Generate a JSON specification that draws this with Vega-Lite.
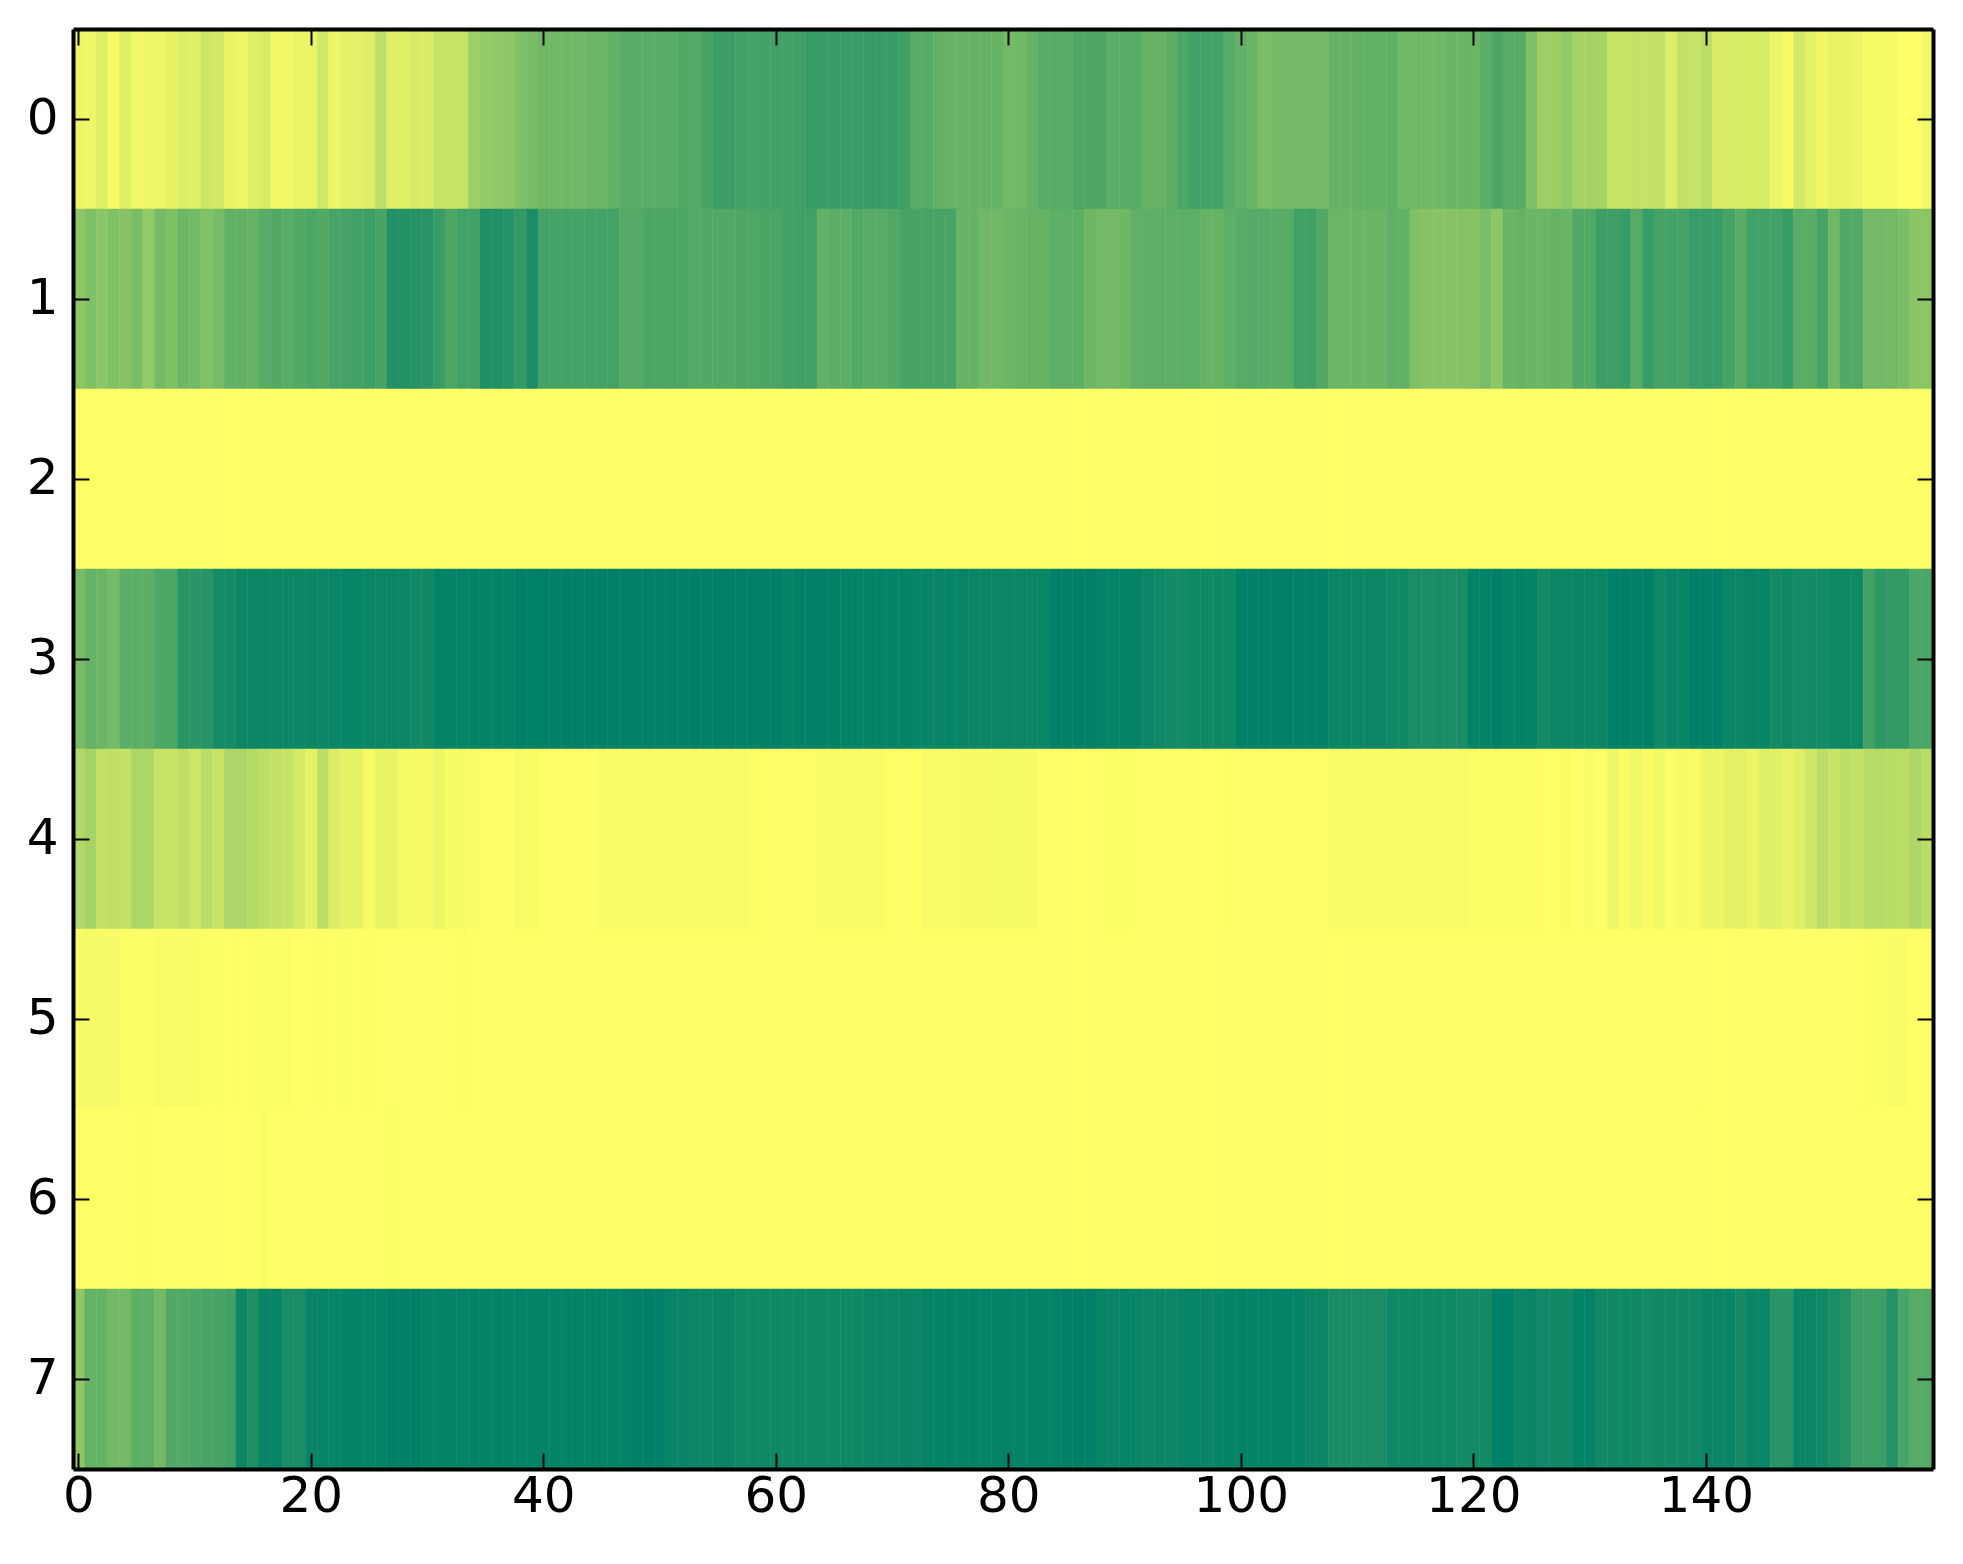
{"$schema":"https://vega.github.io/schema/vega-lite/v6.json","width":1860,"height":1440,"autosize":{"type":"none"},"padding":{"left":73,"top":29,"right":30,"bottom":95},"background":"white","config":{"view":{"stroke":null}},
"data":{"values":[
{"r":0,"c":0,"v":8},{"r":0,"c":1,"v":6},{"r":0,"c":2,"v":13},{"r":0,"c":3,"v":4},{"r":0,"c":4,"v":12},{"r":0,"c":5,"v":5},{"r":0,"c":6,"v":7},{"r":0,"c":7,"v":7},{"r":0,"c":8,"v":10},{"r":0,"c":9,"v":13},{"r":0,"c":10,"v":12},{"r":0,"c":11,"v":20},{"r":0,"c":12,"v":17},{"r":0,"c":13,"v":9},{"r":0,"c":14,"v":7},{"r":0,"c":15,"v":12},{"r":0,"c":16,"v":15},{"r":0,"c":17,"v":5},{"r":0,"c":18,"v":5},{"r":0,"c":19,"v":8},{"r":0,"c":20,"v":8},{"r":0,"c":21,"v":18},{"r":0,"c":22,"v":7},{"r":0,"c":23,"v":11},{"r":0,"c":24,"v":11},{"r":0,"c":25,"v":13},{"r":0,"c":26,"v":25},{"r":0,"c":27,"v":12},{"r":0,"c":28,"v":12},{"r":0,"c":29,"v":16},{"r":0,"c":30,"v":14},{"r":0,"c":31,"v":22},{"r":0,"c":32,"v":22},{"r":0,"c":33,"v":22},{"r":0,"c":34,"v":38},{"r":0,"c":35,"v":42},{"r":0,"c":36,"v":43},{"r":0,"c":37,"v":45},{"r":0,"c":38,"v":50},{"r":0,"c":39,"v":53},
{"r":0,"c":40,"v":56},{"r":0,"c":41,"v":56},{"r":0,"c":42,"v":56},{"r":0,"c":43,"v":56},{"r":0,"c":44,"v":58},{"r":0,"c":45,"v":58},{"r":0,"c":46,"v":62},{"r":0,"c":47,"v":65},{"r":0,"c":48,"v":65},{"r":0,"c":49,"v":65},{"r":0,"c":50,"v":65},{"r":0,"c":51,"v":65},{"r":0,"c":52,"v":68},{"r":0,"c":53,"v":68},{"r":0,"c":54,"v":72},{"r":0,"c":55,"v":76},{"r":0,"c":56,"v":76},{"r":0,"c":57,"v":74},{"r":0,"c":58,"v":72},{"r":0,"c":59,"v":74},{"r":0,"c":60,"v":74},{"r":0,"c":61,"v":74},{"r":0,"c":62,"v":75},{"r":0,"c":63,"v":78},{"r":0,"c":64,"v":78},{"r":0,"c":65,"v":78},{"r":0,"c":66,"v":78},{"r":0,"c":67,"v":78},{"r":0,"c":68,"v":78},{"r":0,"c":69,"v":78},{"r":0,"c":70,"v":78},{"r":0,"c":71,"v":76},{"r":0,"c":72,"v":66},{"r":0,"c":73,"v":66},{"r":0,"c":74,"v":62},{"r":0,"c":75,"v":60},{"r":0,"c":76,"v":60},{"r":0,"c":77,"v":60},{"r":0,"c":78,"v":60},{"r":0,"c":79,"v":60},
{"r":0,"c":80,"v":55},{"r":0,"c":81,"v":56},{"r":0,"c":82,"v":60},{"r":0,"c":83,"v":66},{"r":0,"c":84,"v":66},{"r":0,"c":85,"v":66},{"r":0,"c":86,"v":69},{"r":0,"c":87,"v":69},{"r":0,"c":88,"v":69},{"r":0,"c":89,"v":65},{"r":0,"c":90,"v":65},{"r":0,"c":91,"v":65},{"r":0,"c":92,"v":60},{"r":0,"c":93,"v":60},{"r":0,"c":94,"v":64},{"r":0,"c":95,"v":70},{"r":0,"c":96,"v":74},{"r":0,"c":97,"v":74},{"r":0,"c":98,"v":74},{"r":0,"c":99,"v":66},{"r":0,"c":100,"v":62},{"r":0,"c":101,"v":58},{"r":0,"c":102,"v":52},{"r":0,"c":103,"v":55},{"r":0,"c":104,"v":55},{"r":0,"c":105,"v":55},{"r":0,"c":106,"v":55},{"r":0,"c":107,"v":55},{"r":0,"c":108,"v":60},{"r":0,"c":109,"v":60},{"r":0,"c":110,"v":62},{"r":0,"c":111,"v":62},{"r":0,"c":112,"v":62},{"r":0,"c":113,"v":62},{"r":0,"c":114,"v":56},{"r":0,"c":115,"v":56},{"r":0,"c":116,"v":56},{"r":0,"c":117,"v":56},{"r":0,"c":118,"v":58},{"r":0,"c":119,"v":58},
{"r":0,"c":120,"v":58},{"r":0,"c":121,"v":64},{"r":0,"c":122,"v":70},{"r":0,"c":123,"v":66},{"r":0,"c":124,"v":66},{"r":0,"c":125,"v":50},{"r":0,"c":126,"v":38},{"r":0,"c":127,"v":38},{"r":0,"c":128,"v":42},{"r":0,"c":129,"v":35},{"r":0,"c":130,"v":35},{"r":0,"c":131,"v":35},{"r":0,"c":132,"v":22},{"r":0,"c":133,"v":22},{"r":0,"c":134,"v":23},{"r":0,"c":135,"v":23},{"r":0,"c":136,"v":23},{"r":0,"c":137,"v":14},{"r":0,"c":138,"v":24},{"r":0,"c":139,"v":22},{"r":0,"c":140,"v":26},{"r":0,"c":141,"v":15},{"r":0,"c":142,"v":15},{"r":0,"c":143,"v":15},{"r":0,"c":144,"v":15},{"r":0,"c":145,"v":15},{"r":0,"c":146,"v":8},{"r":0,"c":147,"v":4},{"r":0,"c":148,"v":17},{"r":0,"c":149,"v":11},{"r":0,"c":150,"v":6},{"r":0,"c":151,"v":10},{"r":0,"c":152,"v":9},{"r":0,"c":153,"v":8},{"r":0,"c":154,"v":3},{"r":0,"c":155,"v":3},{"r":0,"c":156,"v":3},{"r":0,"c":157,"v":0},{"r":0,"c":158,"v":0},{"r":0,"c":159,"v":5},
{"r":1,"c":0,"v":45},{"r":1,"c":1,"v":50},{"r":1,"c":2,"v":45},{"r":1,"c":3,"v":50},{"r":1,"c":4,"v":47},{"r":1,"c":5,"v":52},{"r":1,"c":6,"v":42},{"r":1,"c":7,"v":54},{"r":1,"c":8,"v":50},{"r":1,"c":9,"v":57},{"r":1,"c":10,"v":55},{"r":1,"c":11,"v":49},{"r":1,"c":12,"v":53},{"r":1,"c":13,"v":62},{"r":1,"c":14,"v":62},{"r":1,"c":15,"v":60},{"r":1,"c":16,"v":65},{"r":1,"c":17,"v":68},{"r":1,"c":18,"v":65},{"r":1,"c":19,"v":68},{"r":1,"c":20,"v":70},{"r":1,"c":21,"v":68},{"r":1,"c":22,"v":72},{"r":1,"c":23,"v":73},{"r":1,"c":24,"v":74},{"r":1,"c":25,"v":76},{"r":1,"c":26,"v":72},{"r":1,"c":27,"v":87},{"r":1,"c":28,"v":87},{"r":1,"c":29,"v":85},{"r":1,"c":30,"v":84},{"r":1,"c":31,"v":78},{"r":1,"c":32,"v":70},{"r":1,"c":33,"v":74},{"r":1,"c":34,"v":74},{"r":1,"c":35,"v":88},{"r":1,"c":36,"v":88},{"r":1,"c":37,"v":85},{"r":1,"c":38,"v":80},{"r":1,"c":39,"v":90},
{"r":1,"c":40,"v":73},{"r":1,"c":41,"v":73},{"r":1,"c":42,"v":73},{"r":1,"c":43,"v":73},{"r":1,"c":44,"v":73},{"r":1,"c":45,"v":73},{"r":1,"c":46,"v":73},{"r":1,"c":47,"v":67},{"r":1,"c":48,"v":67},{"r":1,"c":49,"v":70},{"r":1,"c":50,"v":70},{"r":1,"c":51,"v":70},{"r":1,"c":52,"v":70},{"r":1,"c":53,"v":68},{"r":1,"c":54,"v":68},{"r":1,"c":55,"v":68},{"r":1,"c":56,"v":68},{"r":1,"c":57,"v":69},{"r":1,"c":58,"v":69},{"r":1,"c":59,"v":71},{"r":1,"c":60,"v":71},{"r":1,"c":61,"v":75},{"r":1,"c":62,"v":75},{"r":1,"c":63,"v":75},{"r":1,"c":64,"v":62},{"r":1,"c":65,"v":64},{"r":1,"c":66,"v":64},{"r":1,"c":67,"v":68},{"r":1,"c":68,"v":66},{"r":1,"c":69,"v":66},{"r":1,"c":70,"v":68},{"r":1,"c":71,"v":72},{"r":1,"c":72,"v":72},{"r":1,"c":73,"v":72},{"r":1,"c":74,"v":72},{"r":1,"c":75,"v":72},{"r":1,"c":76,"v":60},{"r":1,"c":77,"v":60},{"r":1,"c":78,"v":56},{"r":1,"c":79,"v":56},
{"r":1,"c":80,"v":58},{"r":1,"c":81,"v":59},{"r":1,"c":82,"v":60},{"r":1,"c":83,"v":60},{"r":1,"c":84,"v":63},{"r":1,"c":85,"v":63},{"r":1,"c":86,"v":63},{"r":1,"c":87,"v":57},{"r":1,"c":88,"v":55},{"r":1,"c":89,"v":55},{"r":1,"c":90,"v":57},{"r":1,"c":91,"v":62},{"r":1,"c":92,"v":63},{"r":1,"c":93,"v":63},{"r":1,"c":94,"v":63},{"r":1,"c":95,"v":63},{"r":1,"c":96,"v":63},{"r":1,"c":97,"v":60},{"r":1,"c":98,"v":60},{"r":1,"c":99,"v":63},{"r":1,"c":100,"v":67},{"r":1,"c":101,"v":67},{"r":1,"c":102,"v":67},{"r":1,"c":103,"v":65},{"r":1,"c":104,"v":65},{"r":1,"c":105,"v":75},{"r":1,"c":106,"v":75},{"r":1,"c":107,"v":68},{"r":1,"c":108,"v":58},{"r":1,"c":109,"v":58},{"r":1,"c":110,"v":58},{"r":1,"c":111,"v":58},{"r":1,"c":112,"v":58},{"r":1,"c":113,"v":62},{"r":1,"c":114,"v":62},{"r":1,"c":115,"v":50},{"r":1,"c":116,"v":47},{"r":1,"c":117,"v":47},{"r":1,"c":118,"v":47},{"r":1,"c":119,"v":47},
{"r":1,"c":120,"v":48},{"r":1,"c":121,"v":52},{"r":1,"c":122,"v":45},{"r":1,"c":123,"v":58},{"r":1,"c":124,"v":60},{"r":1,"c":125,"v":58},{"r":1,"c":126,"v":58},{"r":1,"c":127,"v":60},{"r":1,"c":128,"v":58},{"r":1,"c":129,"v":68},{"r":1,"c":130,"v":68},{"r":1,"c":131,"v":76},{"r":1,"c":132,"v":76},{"r":1,"c":133,"v":78},{"r":1,"c":134,"v":66},{"r":1,"c":135,"v":78},{"r":1,"c":136,"v":73},{"r":1,"c":137,"v":73},{"r":1,"c":138,"v":73},{"r":1,"c":139,"v":78},{"r":1,"c":140,"v":78},{"r":1,"c":141,"v":78},{"r":1,"c":142,"v":72},{"r":1,"c":143,"v":65},{"r":1,"c":144,"v":74},{"r":1,"c":145,"v":74},{"r":1,"c":146,"v":74},{"r":1,"c":147,"v":78},{"r":1,"c":148,"v":65},{"r":1,"c":149,"v":65},{"r":1,"c":150,"v":72},{"r":1,"c":151,"v":56},{"r":1,"c":152,"v":68},{"r":1,"c":153,"v":68},{"r":1,"c":154,"v":55},{"r":1,"c":155,"v":55},{"r":1,"c":156,"v":55},{"r":1,"c":157,"v":52},{"r":1,"c":158,"v":46},{"r":1,"c":159,"v":46},
{"r":2,"c":0,"v":0},{"r":2,"c":1,"v":0},{"r":2,"c":2,"v":0},{"r":2,"c":3,"v":0},{"r":2,"c":4,"v":0},{"r":2,"c":5,"v":0},{"r":2,"c":6,"v":0},{"r":2,"c":7,"v":0},{"r":2,"c":8,"v":0},{"r":2,"c":9,"v":0},{"r":2,"c":10,"v":0},{"r":2,"c":11,"v":0},{"r":2,"c":12,"v":0},{"r":2,"c":13,"v":0},{"r":2,"c":14,"v":0},{"r":2,"c":15,"v":0},{"r":2,"c":16,"v":0},{"r":2,"c":17,"v":0},{"r":2,"c":18,"v":0},{"r":2,"c":19,"v":0},{"r":2,"c":20,"v":0},{"r":2,"c":21,"v":0},{"r":2,"c":22,"v":0},{"r":2,"c":23,"v":0},{"r":2,"c":24,"v":0},{"r":2,"c":25,"v":0},{"r":2,"c":26,"v":0},{"r":2,"c":27,"v":0},{"r":2,"c":28,"v":0},{"r":2,"c":29,"v":0},{"r":2,"c":30,"v":0},{"r":2,"c":31,"v":0},{"r":2,"c":32,"v":0},{"r":2,"c":33,"v":0},{"r":2,"c":34,"v":0},{"r":2,"c":35,"v":0},{"r":2,"c":36,"v":0},{"r":2,"c":37,"v":0},{"r":2,"c":38,"v":0},{"r":2,"c":39,"v":0},
{"r":2,"c":40,"v":0},{"r":2,"c":41,"v":0},{"r":2,"c":42,"v":0},{"r":2,"c":43,"v":0},{"r":2,"c":44,"v":0},{"r":2,"c":45,"v":0},{"r":2,"c":46,"v":0},{"r":2,"c":47,"v":0},{"r":2,"c":48,"v":0},{"r":2,"c":49,"v":0},{"r":2,"c":50,"v":0},{"r":2,"c":51,"v":0},{"r":2,"c":52,"v":0},{"r":2,"c":53,"v":0},{"r":2,"c":54,"v":0},{"r":2,"c":55,"v":0},{"r":2,"c":56,"v":0},{"r":2,"c":57,"v":0},{"r":2,"c":58,"v":0},{"r":2,"c":59,"v":0},{"r":2,"c":60,"v":0},{"r":2,"c":61,"v":0},{"r":2,"c":62,"v":0},{"r":2,"c":63,"v":0},{"r":2,"c":64,"v":0},{"r":2,"c":65,"v":0},{"r":2,"c":66,"v":0},{"r":2,"c":67,"v":0},{"r":2,"c":68,"v":0},{"r":2,"c":69,"v":0},{"r":2,"c":70,"v":0},{"r":2,"c":71,"v":0},{"r":2,"c":72,"v":0},{"r":2,"c":73,"v":0},{"r":2,"c":74,"v":0},{"r":2,"c":75,"v":0},{"r":2,"c":76,"v":0},{"r":2,"c":77,"v":0},{"r":2,"c":78,"v":0},{"r":2,"c":79,"v":0},
{"r":2,"c":80,"v":0},{"r":2,"c":81,"v":0},{"r":2,"c":82,"v":0},{"r":2,"c":83,"v":0},{"r":2,"c":84,"v":0},{"r":2,"c":85,"v":0},{"r":2,"c":86,"v":0},{"r":2,"c":87,"v":0},{"r":2,"c":88,"v":0},{"r":2,"c":89,"v":0},{"r":2,"c":90,"v":0},{"r":2,"c":91,"v":0},{"r":2,"c":92,"v":0},{"r":2,"c":93,"v":0},{"r":2,"c":94,"v":0},{"r":2,"c":95,"v":0},{"r":2,"c":96,"v":0},{"r":2,"c":97,"v":0},{"r":2,"c":98,"v":0},{"r":2,"c":99,"v":0},{"r":2,"c":100,"v":0},{"r":2,"c":101,"v":0},{"r":2,"c":102,"v":0},{"r":2,"c":103,"v":0},{"r":2,"c":104,"v":0},{"r":2,"c":105,"v":0},{"r":2,"c":106,"v":0},{"r":2,"c":107,"v":0},{"r":2,"c":108,"v":0},{"r":2,"c":109,"v":0},{"r":2,"c":110,"v":0},{"r":2,"c":111,"v":0},{"r":2,"c":112,"v":0},{"r":2,"c":113,"v":0},{"r":2,"c":114,"v":0},{"r":2,"c":115,"v":0},{"r":2,"c":116,"v":0},{"r":2,"c":117,"v":0},{"r":2,"c":118,"v":0},{"r":2,"c":119,"v":0},
{"r":2,"c":120,"v":0},{"r":2,"c":121,"v":0},{"r":2,"c":122,"v":0},{"r":2,"c":123,"v":0},{"r":2,"c":124,"v":0},{"r":2,"c":125,"v":0},{"r":2,"c":126,"v":0},{"r":2,"c":127,"v":0},{"r":2,"c":128,"v":0},{"r":2,"c":129,"v":0},{"r":2,"c":130,"v":0},{"r":2,"c":131,"v":0},{"r":2,"c":132,"v":0},{"r":2,"c":133,"v":0},{"r":2,"c":134,"v":0},{"r":2,"c":135,"v":0},{"r":2,"c":136,"v":0},{"r":2,"c":137,"v":0},{"r":2,"c":138,"v":0},{"r":2,"c":139,"v":0},{"r":2,"c":140,"v":0},{"r":2,"c":141,"v":0},{"r":2,"c":142,"v":0},{"r":2,"c":143,"v":0},{"r":2,"c":144,"v":0},{"r":2,"c":145,"v":0},{"r":2,"c":146,"v":0},{"r":2,"c":147,"v":0},{"r":2,"c":148,"v":0},{"r":2,"c":149,"v":0},{"r":2,"c":150,"v":0},{"r":2,"c":151,"v":0},{"r":2,"c":152,"v":0},{"r":2,"c":153,"v":0},{"r":2,"c":154,"v":0},{"r":2,"c":155,"v":0},{"r":2,"c":156,"v":0},{"r":2,"c":157,"v":0},{"r":2,"c":158,"v":0},{"r":2,"c":159,"v":0},
{"r":3,"c":0,"v":53},{"r":3,"c":1,"v":60},{"r":3,"c":2,"v":58},{"r":3,"c":3,"v":54},{"r":3,"c":4,"v":64},{"r":3,"c":5,"v":64},{"r":3,"c":6,"v":64},{"r":3,"c":7,"v":70},{"r":3,"c":8,"v":70},{"r":3,"c":9,"v":84},{"r":3,"c":10,"v":84},{"r":3,"c":11,"v":84},{"r":3,"c":12,"v":91},{"r":3,"c":13,"v":91},{"r":3,"c":14,"v":95},{"r":3,"c":15,"v":95},{"r":3,"c":16,"v":95},{"r":3,"c":17,"v":95},{"r":3,"c":18,"v":95},{"r":3,"c":19,"v":95},{"r":3,"c":20,"v":95},{"r":3,"c":21,"v":95},{"r":3,"c":22,"v":97},{"r":3,"c":23,"v":97},{"r":3,"c":24,"v":97},{"r":3,"c":25,"v":96},{"r":3,"c":26,"v":96},{"r":3,"c":27,"v":96},{"r":3,"c":28,"v":96},{"r":3,"c":29,"v":93},{"r":3,"c":30,"v":93},{"r":3,"c":31,"v":98},{"r":3,"c":32,"v":98},{"r":3,"c":33,"v":98},{"r":3,"c":34,"v":98},{"r":3,"c":35,"v":98},{"r":3,"c":36,"v":98},{"r":3,"c":37,"v":98},{"r":3,"c":38,"v":100},{"r":3,"c":39,"v":100},
{"r":3,"c":40,"v":100},{"r":3,"c":41,"v":100},{"r":3,"c":42,"v":100},{"r":3,"c":43,"v":100},{"r":3,"c":44,"v":100},{"r":3,"c":45,"v":100},{"r":3,"c":46,"v":100},{"r":3,"c":47,"v":99},{"r":3,"c":48,"v":99},{"r":3,"c":49,"v":99},{"r":3,"c":50,"v":99},{"r":3,"c":51,"v":99},{"r":3,"c":52,"v":99},{"r":3,"c":53,"v":100},{"r":3,"c":54,"v":100},{"r":3,"c":55,"v":100},{"r":3,"c":56,"v":100},{"r":3,"c":57,"v":100},{"r":3,"c":58,"v":100},{"r":3,"c":59,"v":100},{"r":3,"c":60,"v":100},{"r":3,"c":61,"v":98},{"r":3,"c":62,"v":99},{"r":3,"c":63,"v":99},{"r":3,"c":64,"v":99},{"r":3,"c":65,"v":99},{"r":3,"c":66,"v":98},{"r":3,"c":67,"v":98},{"r":3,"c":68,"v":98},{"r":3,"c":69,"v":98},{"r":3,"c":70,"v":98},{"r":3,"c":71,"v":98},{"r":3,"c":72,"v":97},{"r":3,"c":73,"v":97},{"r":3,"c":74,"v":97},{"r":3,"c":75,"v":97},{"r":3,"c":76,"v":97},{"r":3,"c":77,"v":96},{"r":3,"c":78,"v":96},{"r":3,"c":79,"v":96},
{"r":3,"c":80,"v":96},{"r":3,"c":81,"v":96},{"r":3,"c":82,"v":96},{"r":3,"c":83,"v":96},{"r":3,"c":84,"v":100},{"r":3,"c":85,"v":100},{"r":3,"c":86,"v":100},{"r":3,"c":87,"v":100},{"r":3,"c":88,"v":98},{"r":3,"c":89,"v":98},{"r":3,"c":90,"v":98},{"r":3,"c":91,"v":98},{"r":3,"c":92,"v":96},{"r":3,"c":93,"v":94},{"r":3,"c":94,"v":92},{"r":3,"c":95,"v":92},{"r":3,"c":96,"v":94},{"r":3,"c":97,"v":94},{"r":3,"c":98,"v":94},{"r":3,"c":99,"v":94},{"r":3,"c":100,"v":99},{"r":3,"c":101,"v":99},{"r":3,"c":102,"v":99},{"r":3,"c":103,"v":99},{"r":3,"c":104,"v":99},{"r":3,"c":105,"v":99},{"r":3,"c":106,"v":99},{"r":3,"c":107,"v":99},{"r":3,"c":108,"v":96},{"r":3,"c":109,"v":96},{"r":3,"c":110,"v":95},{"r":3,"c":111,"v":95},{"r":3,"c":112,"v":95},{"r":3,"c":113,"v":94},{"r":3,"c":114,"v":94},{"r":3,"c":115,"v":90},{"r":3,"c":116,"v":90},{"r":3,"c":117,"v":90},{"r":3,"c":118,"v":90},{"r":3,"c":119,"v":90},
{"r":3,"c":120,"v":98},{"r":3,"c":121,"v":98},{"r":3,"c":122,"v":100},{"r":3,"c":123,"v":98},{"r":3,"c":124,"v":98},{"r":3,"c":125,"v":98},{"r":3,"c":126,"v":92},{"r":3,"c":127,"v":95},{"r":3,"c":128,"v":95},{"r":3,"c":129,"v":96},{"r":3,"c":130,"v":96},{"r":3,"c":131,"v":96},{"r":3,"c":132,"v":100},{"r":3,"c":133,"v":100},{"r":3,"c":134,"v":100},{"r":3,"c":135,"v":100},{"r":3,"c":136,"v":94},{"r":3,"c":137,"v":97},{"r":3,"c":138,"v":97},{"r":3,"c":139,"v":100},{"r":3,"c":140,"v":100},{"r":3,"c":141,"v":100},{"r":3,"c":142,"v":96},{"r":3,"c":143,"v":96},{"r":3,"c":144,"v":97},{"r":3,"c":145,"v":97},{"r":3,"c":146,"v":92},{"r":3,"c":147,"v":94},{"r":3,"c":148,"v":92},{"r":3,"c":149,"v":92},{"r":3,"c":150,"v":92},{"r":3,"c":151,"v":94},{"r":3,"c":152,"v":94},{"r":3,"c":153,"v":94},{"r":3,"c":154,"v":75},{"r":3,"c":155,"v":82},{"r":3,"c":156,"v":80},{"r":3,"c":157,"v":80},{"r":3,"c":158,"v":70},{"r":3,"c":159,"v":70},
{"r":4,"c":0,"v":30},{"r":4,"c":1,"v":35},{"r":4,"c":2,"v":24},{"r":4,"c":3,"v":25},{"r":4,"c":4,"v":24},{"r":4,"c":5,"v":32},{"r":4,"c":6,"v":32},{"r":4,"c":7,"v":22},{"r":4,"c":8,"v":22},{"r":4,"c":9,"v":25},{"r":4,"c":10,"v":20},{"r":4,"c":11,"v":27},{"r":4,"c":12,"v":22},{"r":4,"c":13,"v":33},{"r":4,"c":14,"v":33},{"r":4,"c":15,"v":30},{"r":4,"c":16,"v":26},{"r":4,"c":17,"v":24},{"r":4,"c":18,"v":22},{"r":4,"c":19,"v":17},{"r":4,"c":20,"v":10},{"r":4,"c":21,"v":26},{"r":4,"c":22,"v":14},{"r":4,"c":23,"v":10},{"r":4,"c":24,"v":10},{"r":4,"c":25,"v":3},{"r":4,"c":26,"v":9},{"r":4,"c":27,"v":9},{"r":4,"c":28,"v":4},{"r":4,"c":29,"v":3},{"r":4,"c":30,"v":3},{"r":4,"c":31,"v":7},{"r":4,"c":32,"v":3},{"r":4,"c":33,"v":3},{"r":4,"c":34,"v":2},{"r":4,"c":35,"v":0},{"r":4,"c":36,"v":0},{"r":4,"c":37,"v":0},{"r":4,"c":38,"v":3},{"r":4,"c":39,"v":2},
{"r":4,"c":40,"v":0},{"r":4,"c":41,"v":0},{"r":4,"c":42,"v":0},{"r":4,"c":43,"v":0},{"r":4,"c":44,"v":0},{"r":4,"c":45,"v":2},{"r":4,"c":46,"v":2},{"r":4,"c":47,"v":2},{"r":4,"c":48,"v":2},{"r":4,"c":49,"v":2},{"r":4,"c":50,"v":2},{"r":4,"c":51,"v":2},{"r":4,"c":52,"v":2},{"r":4,"c":53,"v":2},{"r":4,"c":54,"v":2},{"r":4,"c":55,"v":2},{"r":4,"c":56,"v":2},{"r":4,"c":57,"v":2},{"r":4,"c":58,"v":1},{"r":4,"c":59,"v":0},{"r":4,"c":60,"v":0},{"r":4,"c":61,"v":0},{"r":4,"c":62,"v":0},{"r":4,"c":63,"v":0},{"r":4,"c":64,"v":2},{"r":4,"c":65,"v":2},{"r":4,"c":66,"v":2},{"r":4,"c":67,"v":2},{"r":4,"c":68,"v":2},{"r":4,"c":69,"v":2},{"r":4,"c":70,"v":0},{"r":4,"c":71,"v":0},{"r":4,"c":72,"v":0},{"r":4,"c":73,"v":2.5},{"r":4,"c":74,"v":2.5},{"r":4,"c":75,"v":2.5},{"r":4,"c":76,"v":3},{"r":4,"c":77,"v":3},{"r":4,"c":78,"v":3},{"r":4,"c":79,"v":3},
{"r":4,"c":80,"v":3},{"r":4,"c":81,"v":3},{"r":4,"c":82,"v":3},{"r":4,"c":83,"v":0},{"r":4,"c":84,"v":0},{"r":4,"c":85,"v":0},{"r":4,"c":86,"v":0},{"r":4,"c":87,"v":0},{"r":4,"c":88,"v":0},{"r":4,"c":89,"v":1},{"r":4,"c":90,"v":1},{"r":4,"c":91,"v":0},{"r":4,"c":92,"v":0},{"r":4,"c":93,"v":0},{"r":4,"c":94,"v":0},{"r":4,"c":95,"v":0},{"r":4,"c":96,"v":0},{"r":4,"c":97,"v":0},{"r":4,"c":98,"v":0},{"r":4,"c":99,"v":0.5},{"r":4,"c":100,"v":0.5},{"r":4,"c":101,"v":0},{"r":4,"c":102,"v":0},{"r":4,"c":103,"v":0},{"r":4,"c":104,"v":0},{"r":4,"c":105,"v":0},{"r":4,"c":106,"v":0},{"r":4,"c":107,"v":0},{"r":4,"c":108,"v":2.5},{"r":4,"c":109,"v":2.5},{"r":4,"c":110,"v":2.5},{"r":4,"c":111,"v":2.5},{"r":4,"c":112,"v":2.5},{"r":4,"c":113,"v":2.5},{"r":4,"c":114,"v":2.5},{"r":4,"c":115,"v":2.5},{"r":4,"c":116,"v":2.5},{"r":4,"c":117,"v":2.5},{"r":4,"c":118,"v":2.5},{"r":4,"c":119,"v":2.5},
{"r":4,"c":120,"v":1},{"r":4,"c":121,"v":1},{"r":4,"c":122,"v":1},{"r":4,"c":123,"v":1},{"r":4,"c":124,"v":1},{"r":4,"c":125,"v":1},{"r":4,"c":126,"v":0},{"r":4,"c":127,"v":0},{"r":4,"c":128,"v":2},{"r":4,"c":129,"v":0},{"r":4,"c":130,"v":2},{"r":4,"c":131,"v":0},{"r":4,"c":132,"v":7},{"r":4,"c":133,"v":2},{"r":4,"c":134,"v":5},{"r":4,"c":135,"v":2},{"r":4,"c":136,"v":5},{"r":4,"c":137,"v":1},{"r":4,"c":138,"v":3},{"r":4,"c":139,"v":2},{"r":4,"c":140,"v":8},{"r":4,"c":141,"v":8},{"r":4,"c":142,"v":11},{"r":4,"c":143,"v":11},{"r":4,"c":144,"v":8},{"r":4,"c":145,"v":12},{"r":4,"c":146,"v":12},{"r":4,"c":147,"v":9},{"r":4,"c":148,"v":13},{"r":4,"c":149,"v":20},{"r":4,"c":150,"v":26},{"r":4,"c":151,"v":22},{"r":4,"c":152,"v":26},{"r":4,"c":153,"v":24},{"r":4,"c":154,"v":28},{"r":4,"c":155,"v":28},{"r":4,"c":156,"v":27},{"r":4,"c":157,"v":27},{"r":4,"c":158,"v":32},{"r":4,"c":159,"v":27},
{"r":5,"c":0,"v":3},{"r":5,"c":1,"v":4},{"r":5,"c":2,"v":4},{"r":5,"c":3,"v":4},{"r":5,"c":4,"v":1},{"r":5,"c":5,"v":1},{"r":5,"c":6,"v":1},{"r":5,"c":7,"v":2},{"r":5,"c":8,"v":1.5},{"r":5,"c":9,"v":1.5},{"r":5,"c":10,"v":1.5},{"r":5,"c":11,"v":0},{"r":5,"c":12,"v":0.5},{"r":5,"c":13,"v":0.5},{"r":5,"c":14,"v":0},{"r":5,"c":15,"v":1},{"r":5,"c":16,"v":0.5},{"r":5,"c":17,"v":1},{"r":5,"c":18,"v":1},{"r":5,"c":19,"v":0},{"r":5,"c":20,"v":0},{"r":5,"c":21,"v":0.5},{"r":5,"c":22,"v":0},{"r":5,"c":23,"v":1},{"r":5,"c":24,"v":0},{"r":5,"c":25,"v":1},{"r":5,"c":26,"v":0},{"r":5,"c":27,"v":0},{"r":5,"c":28,"v":0},{"r":5,"c":29,"v":0},{"r":5,"c":30,"v":0},{"r":5,"c":31,"v":0},{"r":5,"c":32,"v":0},{"r":5,"c":33,"v":1},{"r":5,"c":34,"v":0},{"r":5,"c":35,"v":0},{"r":5,"c":36,"v":0},{"r":5,"c":37,"v":0},{"r":5,"c":38,"v":0},{"r":5,"c":39,"v":0},
{"r":5,"c":40,"v":0},{"r":5,"c":41,"v":0},{"r":5,"c":42,"v":0},{"r":5,"c":43,"v":0},{"r":5,"c":44,"v":0},{"r":5,"c":45,"v":0},{"r":5,"c":46,"v":0},{"r":5,"c":47,"v":0},{"r":5,"c":48,"v":0},{"r":5,"c":49,"v":0},{"r":5,"c":50,"v":0},{"r":5,"c":51,"v":0},{"r":5,"c":52,"v":0},{"r":5,"c":53,"v":0},{"r":5,"c":54,"v":0},{"r":5,"c":55,"v":0},{"r":5,"c":56,"v":0},{"r":5,"c":57,"v":0},{"r":5,"c":58,"v":0},{"r":5,"c":59,"v":0},{"r":5,"c":60,"v":0},{"r":5,"c":61,"v":0},{"r":5,"c":62,"v":0},{"r":5,"c":63,"v":0},{"r":5,"c":64,"v":0},{"r":5,"c":65,"v":0},{"r":5,"c":66,"v":0},{"r":5,"c":67,"v":0},{"r":5,"c":68,"v":0},{"r":5,"c":69,"v":0},{"r":5,"c":70,"v":0},{"r":5,"c":71,"v":0},{"r":5,"c":72,"v":0},{"r":5,"c":73,"v":0},{"r":5,"c":74,"v":0},{"r":5,"c":75,"v":0},{"r":5,"c":76,"v":0},{"r":5,"c":77,"v":0},{"r":5,"c":78,"v":0},{"r":5,"c":79,"v":0},
{"r":5,"c":80,"v":0},{"r":5,"c":81,"v":0},{"r":5,"c":82,"v":0},{"r":5,"c":83,"v":0},{"r":5,"c":84,"v":0},{"r":5,"c":85,"v":0},{"r":5,"c":86,"v":0},{"r":5,"c":87,"v":0},{"r":5,"c":88,"v":0},{"r":5,"c":89,"v":0},{"r":5,"c":90,"v":0},{"r":5,"c":91,"v":0},{"r":5,"c":92,"v":0},{"r":5,"c":93,"v":0},{"r":5,"c":94,"v":0},{"r":5,"c":95,"v":0},{"r":5,"c":96,"v":0},{"r":5,"c":97,"v":0},{"r":5,"c":98,"v":0},{"r":5,"c":99,"v":0},{"r":5,"c":100,"v":0},{"r":5,"c":101,"v":0},{"r":5,"c":102,"v":0},{"r":5,"c":103,"v":0},{"r":5,"c":104,"v":0},{"r":5,"c":105,"v":0},{"r":5,"c":106,"v":0},{"r":5,"c":107,"v":0},{"r":5,"c":108,"v":0},{"r":5,"c":109,"v":0},{"r":5,"c":110,"v":0},{"r":5,"c":111,"v":0},{"r":5,"c":112,"v":0},{"r":5,"c":113,"v":0},{"r":5,"c":114,"v":0},{"r":5,"c":115,"v":0},{"r":5,"c":116,"v":0},{"r":5,"c":117,"v":0},{"r":5,"c":118,"v":0},{"r":5,"c":119,"v":0},
{"r":5,"c":120,"v":0},{"r":5,"c":121,"v":0},{"r":5,"c":122,"v":0},{"r":5,"c":123,"v":0},{"r":5,"c":124,"v":0},{"r":5,"c":125,"v":0},{"r":5,"c":126,"v":0},{"r":5,"c":127,"v":0},{"r":5,"c":128,"v":0},{"r":5,"c":129,"v":0},{"r":5,"c":130,"v":0},{"r":5,"c":131,"v":0},{"r":5,"c":132,"v":0},{"r":5,"c":133,"v":0},{"r":5,"c":134,"v":0},{"r":5,"c":135,"v":0},{"r":5,"c":136,"v":0},{"r":5,"c":137,"v":0},{"r":5,"c":138,"v":0},{"r":5,"c":139,"v":0.5},{"r":5,"c":140,"v":0},{"r":5,"c":141,"v":0},{"r":5,"c":142,"v":0},{"r":5,"c":143,"v":0},{"r":5,"c":144,"v":0},{"r":5,"c":145,"v":0},{"r":5,"c":146,"v":0.5},{"r":5,"c":147,"v":0},{"r":5,"c":148,"v":0},{"r":5,"c":149,"v":0},{"r":5,"c":150,"v":0},{"r":5,"c":151,"v":0},{"r":5,"c":152,"v":0},{"r":5,"c":153,"v":0},{"r":5,"c":154,"v":1},{"r":5,"c":155,"v":0.5},{"r":5,"c":156,"v":1.5},{"r":5,"c":157,"v":1.5},{"r":5,"c":158,"v":0},{"r":5,"c":159,"v":0},
{"r":6,"c":0,"v":0},{"r":6,"c":1,"v":0},{"r":6,"c":2,"v":0},{"r":6,"c":3,"v":0},{"r":6,"c":4,"v":0},{"r":6,"c":5,"v":0},{"r":6,"c":6,"v":1},{"r":6,"c":7,"v":0},{"r":6,"c":8,"v":0},{"r":6,"c":9,"v":0},{"r":6,"c":10,"v":0},{"r":6,"c":11,"v":0},{"r":6,"c":12,"v":0},{"r":6,"c":13,"v":0},{"r":6,"c":14,"v":0},{"r":6,"c":15,"v":0},{"r":6,"c":16,"v":1},{"r":6,"c":17,"v":0},{"r":6,"c":18,"v":0},{"r":6,"c":19,"v":0},{"r":6,"c":20,"v":0},{"r":6,"c":21,"v":0},{"r":6,"c":22,"v":0},{"r":6,"c":23,"v":0},{"r":6,"c":24,"v":0},{"r":6,"c":25,"v":0},{"r":6,"c":26,"v":0},{"r":6,"c":27,"v":1},{"r":6,"c":28,"v":0},{"r":6,"c":29,"v":0},{"r":6,"c":30,"v":0},{"r":6,"c":31,"v":0},{"r":6,"c":32,"v":0},{"r":6,"c":33,"v":0},{"r":6,"c":34,"v":0},{"r":6,"c":35,"v":0},{"r":6,"c":36,"v":0},{"r":6,"c":37,"v":0},{"r":6,"c":38,"v":0},{"r":6,"c":39,"v":0},
{"r":6,"c":40,"v":0},{"r":6,"c":41,"v":0},{"r":6,"c":42,"v":0},{"r":6,"c":43,"v":0},{"r":6,"c":44,"v":0},{"r":6,"c":45,"v":0},{"r":6,"c":46,"v":0},{"r":6,"c":47,"v":0},{"r":6,"c":48,"v":0},{"r":6,"c":49,"v":0},{"r":6,"c":50,"v":0},{"r":6,"c":51,"v":0},{"r":6,"c":52,"v":0},{"r":6,"c":53,"v":0},{"r":6,"c":54,"v":0},{"r":6,"c":55,"v":0},{"r":6,"c":56,"v":0},{"r":6,"c":57,"v":0},{"r":6,"c":58,"v":0},{"r":6,"c":59,"v":0},{"r":6,"c":60,"v":0},{"r":6,"c":61,"v":0},{"r":6,"c":62,"v":0},{"r":6,"c":63,"v":0},{"r":6,"c":64,"v":0},{"r":6,"c":65,"v":0},{"r":6,"c":66,"v":0},{"r":6,"c":67,"v":0},{"r":6,"c":68,"v":0},{"r":6,"c":69,"v":0},{"r":6,"c":70,"v":0},{"r":6,"c":71,"v":0},{"r":6,"c":72,"v":0},{"r":6,"c":73,"v":0},{"r":6,"c":74,"v":0},{"r":6,"c":75,"v":0},{"r":6,"c":76,"v":0},{"r":6,"c":77,"v":0},{"r":6,"c":78,"v":0},{"r":6,"c":79,"v":0},
{"r":6,"c":80,"v":0},{"r":6,"c":81,"v":0},{"r":6,"c":82,"v":0},{"r":6,"c":83,"v":0},{"r":6,"c":84,"v":0},{"r":6,"c":85,"v":0},{"r":6,"c":86,"v":0},{"r":6,"c":87,"v":0},{"r":6,"c":88,"v":0},{"r":6,"c":89,"v":0},{"r":6,"c":90,"v":0},{"r":6,"c":91,"v":0},{"r":6,"c":92,"v":0},{"r":6,"c":93,"v":0},{"r":6,"c":94,"v":0},{"r":6,"c":95,"v":0},{"r":6,"c":96,"v":0},{"r":6,"c":97,"v":0},{"r":6,"c":98,"v":0},{"r":6,"c":99,"v":0},{"r":6,"c":100,"v":0},{"r":6,"c":101,"v":0},{"r":6,"c":102,"v":0},{"r":6,"c":103,"v":0},{"r":6,"c":104,"v":0},{"r":6,"c":105,"v":0},{"r":6,"c":106,"v":0},{"r":6,"c":107,"v":0},{"r":6,"c":108,"v":0},{"r":6,"c":109,"v":0},{"r":6,"c":110,"v":0},{"r":6,"c":111,"v":0},{"r":6,"c":112,"v":0},{"r":6,"c":113,"v":0},{"r":6,"c":114,"v":0},{"r":6,"c":115,"v":0},{"r":6,"c":116,"v":0},{"r":6,"c":117,"v":0},{"r":6,"c":118,"v":0},{"r":6,"c":119,"v":0},
{"r":6,"c":120,"v":0},{"r":6,"c":121,"v":0},{"r":6,"c":122,"v":0},{"r":6,"c":123,"v":0},{"r":6,"c":124,"v":0},{"r":6,"c":125,"v":0},{"r":6,"c":126,"v":0},{"r":6,"c":127,"v":0},{"r":6,"c":128,"v":0},{"r":6,"c":129,"v":0},{"r":6,"c":130,"v":0},{"r":6,"c":131,"v":0},{"r":6,"c":132,"v":0},{"r":6,"c":133,"v":0},{"r":6,"c":134,"v":0},{"r":6,"c":135,"v":0},{"r":6,"c":136,"v":0},{"r":6,"c":137,"v":0},{"r":6,"c":138,"v":0},{"r":6,"c":139,"v":0},{"r":6,"c":140,"v":0},{"r":6,"c":141,"v":0},{"r":6,"c":142,"v":0},{"r":6,"c":143,"v":0},{"r":6,"c":144,"v":0},{"r":6,"c":145,"v":0},{"r":6,"c":146,"v":0},{"r":6,"c":147,"v":0},{"r":6,"c":148,"v":0},{"r":6,"c":149,"v":0},{"r":6,"c":150,"v":0},{"r":6,"c":151,"v":0},{"r":6,"c":152,"v":0},{"r":6,"c":153,"v":0.5},{"r":6,"c":154,"v":0},{"r":6,"c":155,"v":0},{"r":6,"c":156,"v":0},{"r":6,"c":157,"v":0},{"r":6,"c":158,"v":0},{"r":6,"c":159,"v":0},
{"r":7,"c":0,"v":43},{"r":7,"c":1,"v":60},{"r":7,"c":2,"v":60},{"r":7,"c":3,"v":55},{"r":7,"c":4,"v":55},{"r":7,"c":5,"v":63},{"r":7,"c":6,"v":63},{"r":7,"c":7,"v":55},{"r":7,"c":8,"v":68},{"r":7,"c":9,"v":68},{"r":7,"c":10,"v":70},{"r":7,"c":11,"v":72},{"r":7,"c":12,"v":72},{"r":7,"c":13,"v":74},{"r":7,"c":14,"v":95},{"r":7,"c":15,"v":88},{"r":7,"c":16,"v":97},{"r":7,"c":17,"v":97},{"r":7,"c":18,"v":90},{"r":7,"c":19,"v":90},{"r":7,"c":20,"v":97},{"r":7,"c":21,"v":97},{"r":7,"c":22,"v":97},{"r":7,"c":23,"v":98},{"r":7,"c":24,"v":98},{"r":7,"c":25,"v":98},{"r":7,"c":26,"v":98},{"r":7,"c":27,"v":100},{"r":7,"c":28,"v":100},{"r":7,"c":29,"v":100},{"r":7,"c":30,"v":98},{"r":7,"c":31,"v":98},{"r":7,"c":32,"v":98},{"r":7,"c":33,"v":98},{"r":7,"c":34,"v":98},{"r":7,"c":35,"v":98},{"r":7,"c":36,"v":98},{"r":7,"c":37,"v":98},{"r":7,"c":38,"v":98},{"r":7,"c":39,"v":98},
{"r":7,"c":40,"v":98},{"r":7,"c":41,"v":98},{"r":7,"c":42,"v":98},{"r":7,"c":43,"v":98},{"r":7,"c":44,"v":98},{"r":7,"c":45,"v":98},{"r":7,"c":46,"v":98},{"r":7,"c":47,"v":98},{"r":7,"c":48,"v":100},{"r":7,"c":49,"v":100},{"r":7,"c":50,"v":100},{"r":7,"c":51,"v":97},{"r":7,"c":52,"v":97},{"r":7,"c":53,"v":96},{"r":7,"c":54,"v":96},{"r":7,"c":55,"v":96},{"r":7,"c":56,"v":96},{"r":7,"c":57,"v":94},{"r":7,"c":58,"v":94},{"r":7,"c":59,"v":94},{"r":7,"c":60,"v":94},{"r":7,"c":61,"v":94},{"r":7,"c":62,"v":94},{"r":7,"c":63,"v":94},{"r":7,"c":64,"v":94},{"r":7,"c":65,"v":94},{"r":7,"c":66,"v":94},{"r":7,"c":67,"v":94},{"r":7,"c":68,"v":96},{"r":7,"c":69,"v":96},{"r":7,"c":70,"v":96},{"r":7,"c":71,"v":96},{"r":7,"c":72,"v":96},{"r":7,"c":73,"v":98},{"r":7,"c":74,"v":98},{"r":7,"c":75,"v":98},{"r":7,"c":76,"v":98},{"r":7,"c":77,"v":98},{"r":7,"c":78,"v":98},{"r":7,"c":79,"v":98},
{"r":7,"c":80,"v":98},{"r":7,"c":81,"v":98},{"r":7,"c":82,"v":98},{"r":7,"c":83,"v":98},{"r":7,"c":84,"v":98},{"r":7,"c":85,"v":100},{"r":7,"c":86,"v":100},{"r":7,"c":87,"v":100},{"r":7,"c":88,"v":97},{"r":7,"c":89,"v":97},{"r":7,"c":90,"v":97},{"r":7,"c":91,"v":97},{"r":7,"c":92,"v":95},{"r":7,"c":93,"v":95},{"r":7,"c":94,"v":95},{"r":7,"c":95,"v":97},{"r":7,"c":96,"v":97},{"r":7,"c":97,"v":97},{"r":7,"c":98,"v":97},{"r":7,"c":99,"v":98},{"r":7,"c":100,"v":98},{"r":7,"c":101,"v":98},{"r":7,"c":102,"v":98},{"r":7,"c":103,"v":98},{"r":7,"c":104,"v":98},{"r":7,"c":105,"v":98},{"r":7,"c":106,"v":95},{"r":7,"c":107,"v":95},{"r":7,"c":108,"v":90},{"r":7,"c":109,"v":90},{"r":7,"c":110,"v":90},{"r":7,"c":111,"v":90},{"r":7,"c":112,"v":90},{"r":7,"c":113,"v":94},{"r":7,"c":114,"v":94},{"r":7,"c":115,"v":94},{"r":7,"c":116,"v":94},{"r":7,"c":117,"v":94},{"r":7,"c":118,"v":94},{"r":7,"c":119,"v":92},
{"r":7,"c":120,"v":92},{"r":7,"c":121,"v":92},{"r":7,"c":122,"v":100},{"r":7,"c":123,"v":100},{"r":7,"c":124,"v":95},{"r":7,"c":125,"v":97},{"r":7,"c":126,"v":93},{"r":7,"c":127,"v":93},{"r":7,"c":128,"v":93},{"r":7,"c":129,"v":98},{"r":7,"c":130,"v":98},{"r":7,"c":131,"v":93},{"r":7,"c":132,"v":93},{"r":7,"c":133,"v":94},{"r":7,"c":134,"v":94},{"r":7,"c":135,"v":92},{"r":7,"c":136,"v":93},{"r":7,"c":137,"v":93},{"r":7,"c":138,"v":93},{"r":7,"c":139,"v":93},{"r":7,"c":140,"v":96},{"r":7,"c":141,"v":96},{"r":7,"c":142,"v":96},{"r":7,"c":143,"v":92},{"r":7,"c":144,"v":96},{"r":7,"c":145,"v":96},{"r":7,"c":146,"v":84},{"r":7,"c":147,"v":84},{"r":7,"c":148,"v":96},{"r":7,"c":149,"v":96},{"r":7,"c":150,"v":93},{"r":7,"c":151,"v":90},{"r":7,"c":152,"v":86},{"r":7,"c":153,"v":76},{"r":7,"c":154,"v":76},{"r":7,"c":155,"v":76},{"r":7,"c":156,"v":86},{"r":7,"c":157,"v":72},{"r":7,"c":158,"v":66},{"r":7,"c":159,"v":66}
]},
"resolve":{"axis":{"x":"independent","y":"independent"}},
"layer":[
{"mark":{"type":"rect","strokeWidth":0.5},"encoding":{
"x":{"field":"c","type":"ordinal","scale":{"padding":0},"axis":{"orient":"bottom","title":null,"values":[0,20,40,60,80,100,120,140],"labelAngle":0,"labelFont":"DejaVu Sans","labelFontSize":50,"labelColor":"black","labelPadding":18,"tickSize":-16,"tickWidth":2,"tickColor":"black","domainWidth":4,"domainColor":"black","grid":false,"zindex":1}},
"y":{"field":"r","type":"ordinal","scale":{"padding":0},"axis":{"orient":"left","title":null,"labelFont":"DejaVu Sans","labelFontSize":50,"labelColor":"black","labelPadding":31,"tickSize":-16,"tickWidth":2,"tickColor":"black","domainWidth":4,"domainColor":"black","grid":false,"zindex":1}},
"fill":{"field":"v","type":"quantitative","legend":null,"scale":{"domain":[0,100],"range":["#ffff66","#008066"],"interpolate":"rgb"}},
"stroke":{"field":"v","type":"quantitative","legend":null,"scale":{"domain":[0,100],"range":["#ffff66","#008066"],"interpolate":"rgb"}}
}},
{"transform":[{"filter":"datum.c==0 && datum.r==0"}],"mark":{"type":"rect","opacity":0},"encoding":{
"x":{"field":"c","type":"ordinal","axis":{"orient":"top","title":null,"values":[0,20,40,60,80,100,120,140],"labels":false,"tickSize":-16,"tickWidth":2,"tickColor":"black","domainWidth":4,"domainColor":"black","grid":false,"zindex":1}},
"y":{"field":"r","type":"ordinal","axis":{"orient":"right","title":null,"labels":false,"tickSize":-16,"tickWidth":2,"tickColor":"black","domainWidth":4,"domainColor":"black","grid":false,"zindex":1}}
}}
]}
